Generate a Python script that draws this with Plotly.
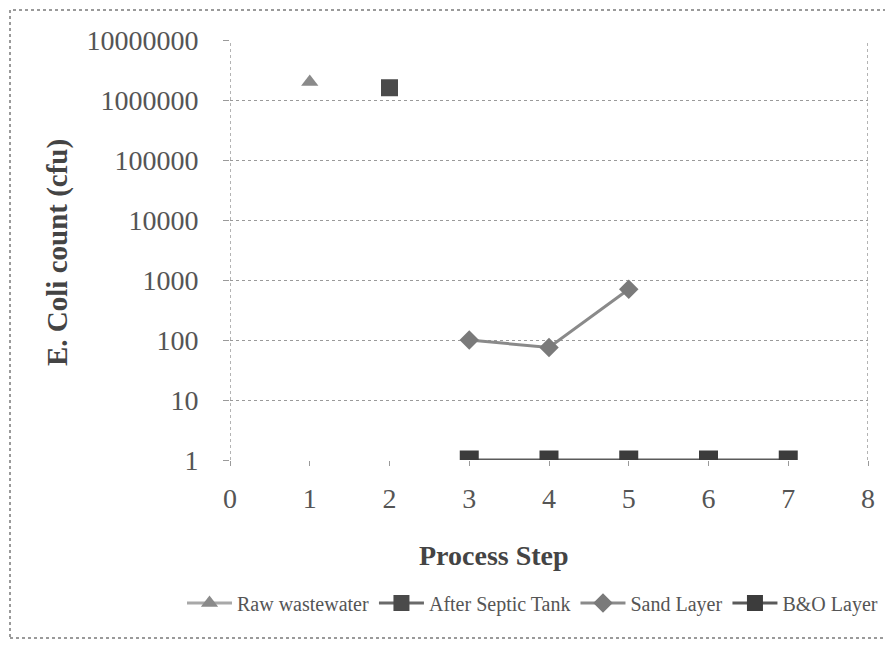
import plotly.graph_objects as go

steps_raw = [1]
raw_wastewater = [2000000]
steps_septic = [2]
after_septic = [1600000]
steps_sand = [3, 4, 5]
sand_layer = [100, 75, 700]
steps_bo = [3, 4, 5, 6, 7]
bo_layer = [1, 1, 1, 1, 1]

x_ticks = [0, 1, 2, 3, 4, 5, 6, 7, 8]
y_ticks = [1, 10, 100, 1000, 10000, 100000, 1000000, 10000000]
y_tick_labels = ["1", "10", "100", "1000", "10000", "100000", "1000000", "10000000"]

FONT = "Liberation Serif"

# the page body adds an 8px offset; figure coordinates compensate for it
OFF = 8
W, H = 893, 645
PL, PR, PT, PB = 230 - OFF, 868 - OFF, 40 - OFF, 460 - OFF  # plot area in figure px
PW, PH = PR - PL, PB - PT


def px(xpix):
    return (xpix - OFF - PL) / PW


def py(ypix):
    return (PB - (ypix - OFF)) / PH


fig = go.Figure()
fig.add_trace(go.Scatter(x=steps_raw, y=raw_wastewater, name="Raw wastewater",
                         mode="lines+markers",
                         line=dict(color="#a8a8a8", width=3),
                         marker=dict(symbol="triangle-up", size=15, color="#8a8a8a")))
fig.add_trace(go.Scatter(x=steps_septic, y=after_septic, name="After Septic Tank",
                         mode="lines+markers",
                         line=dict(color="#6a6a6a", width=3),
                         marker=dict(symbol="square", size=17, color="#4a4a4a")))
fig.add_trace(go.Scatter(x=steps_sand, y=sand_layer, name="Sand Layer",
                         mode="lines+markers",
                         line=dict(color="#8a8a8a", width=3),
                         marker=dict(symbol="diamond", size=15, color="#7a7a7a")))
fig.add_trace(go.Scatter(x=steps_bo, y=bo_layer, name="B&O Layer",
                         mode="lines+markers",
                         line=dict(color="#5a5a5a", width=3),
                         marker=dict(symbol="square", size=19, color="#3c3c3c")))

grid_col = "#9a9a9a"
fig.update_xaxes(range=[0, 8], tickvals=x_ticks, showgrid=False, zeroline=False,
                 showline=False, ticks="outside", ticklen=5, tickcolor=grid_col,
                 tickfont=dict(family=FONT, size=28, color="#555555"),
                 ticklabelstandoff=8, automargin=False)
fig.update_yaxes(type="log", range=[0, 7], tickvals=y_ticks, ticktext=y_tick_labels,
                 showgrid=True, gridcolor=grid_col, griddash="dot", gridwidth=1,
                 zeroline=False, showline=False, ticks="outside", ticklen=6,
                 tickcolor=grid_col,
                 tickfont=dict(family=FONT, size=28, color="#555555"),
                 ticklabelstandoff=19, automargin=False)

shapes = [
    dict(type="line", xref="x", yref="paper", x0=0, x1=0, y0=0, y1=1,
         line=dict(color=grid_col, width=1.5, dash="dot")),
    dict(type="line", xref="x", yref="paper", x0=8, x1=8, y0=0, y1=1,
         line=dict(color=grid_col, width=1.5, dash="dot")),
    # outer chart border
    dict(type="rect", xref="paper", yref="paper",
         x0=px(10), x1=px(905), y0=py(638), y1=py(10),
         line=dict(color="#9a9a9a", width=2, dash="dot")),
]

annotations = [
    dict(text="<b>E. Coli count (cfu)</b>", xref="paper", yref="paper",
         x=px(57), y=py(252), textangle=-90, showarrow=False,
         font=dict(family=FONT, size=29, color="#444444"),
         xanchor="center", yanchor="middle"),
    dict(text="<b>Process Step</b>", xref="paper", yref="paper",
         x=px(494), y=py(555), showarrow=False,
         font=dict(family=FONT, size=28, color="#444444"),
         xanchor="center", yanchor="middle"),
]

fig.update_layout(
    width=W, height=H,
    margin=dict(l=PL, r=W - PR, t=PT, b=H - PB, autoexpand=False),
    paper_bgcolor="white", plot_bgcolor="white",
    font=dict(family=FONT, color="#555555"),
    showlegend=True,
    legend=dict(orientation="h",
                x=px(182), xanchor="left",
                y=py(603), yanchor="middle",
                font=dict(family=FONT, size=20, color="#555555"),
                itemwidth=45, tracegroupgap=0, bgcolor="rgba(0,0,0,0)"),
    shapes=shapes,
    annotations=annotations,
)

fig.write_html("out.html")
